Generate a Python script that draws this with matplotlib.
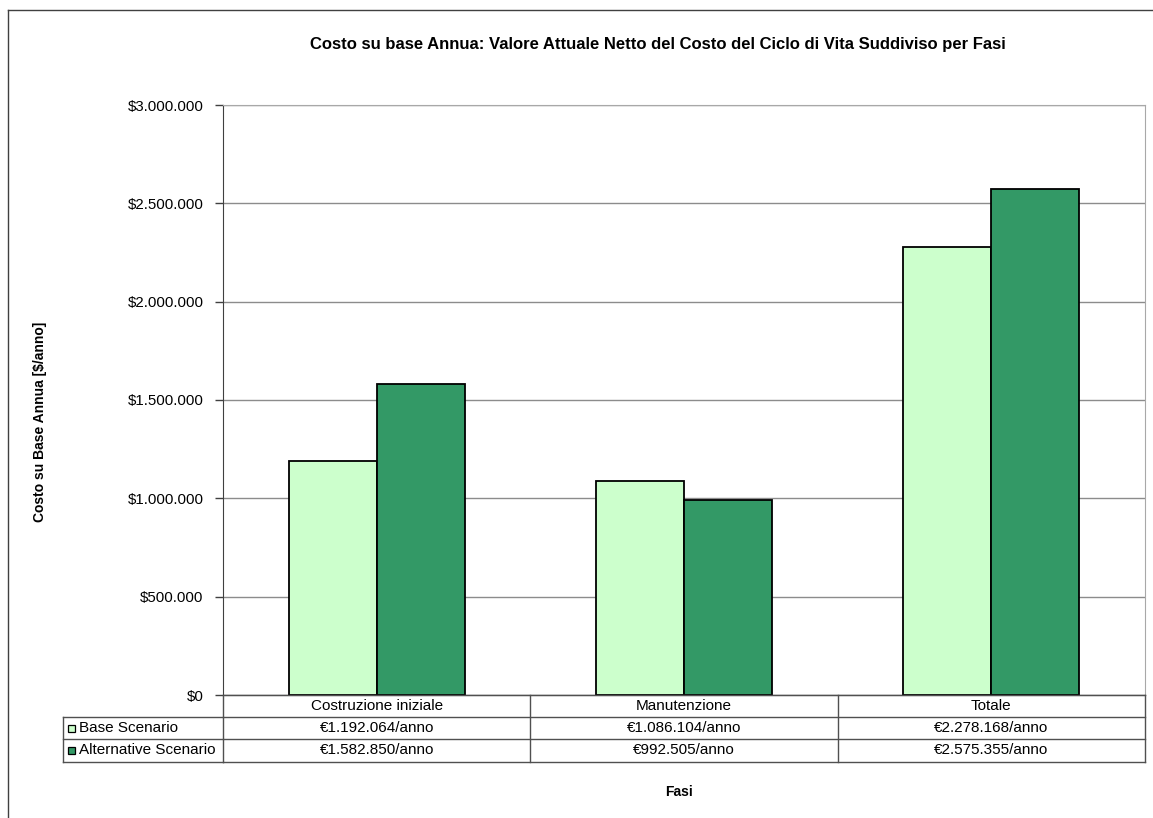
import matplotlib
matplotlib.use("Agg")
import matplotlib.pyplot as plt
from matplotlib.lines import Line2D
from matplotlib.patches import Rectangle
from matplotlib.ticker import FuncFormatter, MultipleLocator
import matplotlib.transforms as mtransforms
import numpy as np

plt.rcParams['font.family'] = ['Liberation Sans', 'DejaVu Sans']

categories = ["Costruzione iniziale", "Manutenzione", "Totale"]
series_names = ["Base Scenario", "Alternative Scenario"]
base_values = [1192064, 1086104, 2278168]
alt_values = [1582850, 992505, 2575355]
base_labels = ["€1.192.064/anno", "€1.086.104/anno", "€2.278.168/anno"]
alt_labels = ["€1.582.850/anno", "€992.505/anno", "€2.575.355/anno"]
title = "Costo su base Annua: Valore Attuale Netto del Costo del Ciclo di Vita Suddiviso per Fasi"
ylabel = "Costo su Base Annua [$/anno]"
xlabel = "Fasi"

base_color = "#CCFFCC"
alt_color = "#339966"

W, H = 1153, 818
fig = plt.figure(figsize=(W / 100, H / 100), dpi=100)

def fx(px):
    return px / W

def fy(py):
    return 1 - py / H

ax = fig.add_axes([fx(223), fy(695), fx(1145) - fx(223), fy(105) - fy(695)])

x = np.arange(len(categories))
bw = 0.286
ax.bar(x - bw / 2, base_values, width=bw, color=base_color, edgecolor="black", linewidth=1.3, zorder=3)
ax.bar(x + bw / 2, alt_values, width=bw, color=alt_color, edgecolor="black", linewidth=1.3, zorder=3)

ax.set_xlim(-0.5, len(categories) - 0.5)
ax.set_ylim(0, 3000000)
ax.yaxis.set_major_locator(MultipleLocator(500000))

def fmt(v, pos):
    s = f"{int(round(v)):,}".replace(",", ".")
    return "$" + s

ax.yaxis.set_major_formatter(FuncFormatter(fmt))
ax.tick_params(axis='y', labelsize=10.8, length=6, width=1, color="#404040", pad=8)
ax.set_xticks([])
ax.grid(axis='y', color="#8c8c8c", linewidth=1, zorder=0)
for sp in ["top", "right"]:
    ax.spines[sp].set_color("#a8a8a8")
ax.spines["left"].set_color("#404040")
ax.spines["bottom"].set_color("#404040")

# Table
blend = mtransforms.blended_transform_factory(ax.transData, fig.transFigure)
row_y = [695, 717, 739, 762]
tlc = "#505050"
tl = 63
for i, yy in enumerate(row_y):
    fig.add_artist(Line2D([-0.5, len(categories) - 0.5], [fy(yy), fy(yy)], transform=blend, color=tlc, lw=1))
    if i >= 1:
        fig.add_artist(Line2D([fx(tl), fx(223)], [fy(yy), fy(yy)], color=tlc, lw=1))
for b in np.arange(len(categories) + 1) - 0.5:
    fig.add_artist(Line2D([b, b], [fy(695), fy(762)], transform=blend, color=tlc, lw=1))
fig.add_artist(Line2D([fx(tl), fx(tl)], [fy(717), fy(762)], color=tlc, lw=1))

fs = 11
for i, c in enumerate(categories):
    fig.text(x[i], fy((695 + 717) / 2), c, transform=blend, ha='center', va='center', fontsize=fs)
    fig.text(x[i], fy((717 + 739) / 2), base_labels[i], transform=blend, ha='center', va='center', fontsize=fs)
    fig.text(x[i], fy((739 + 762) / 2), alt_labels[i], transform=blend, ha='center', va='center', fontsize=fs)

for j, (name, col) in enumerate(zip(series_names, [base_color, alt_color])):
    yc = (row_y[j + 1] + row_y[j + 2]) / 2
    fig.add_artist(Rectangle((fx(68), fy(yc + 3.5)), fx(7), fy(0) - fy(7), facecolor=col,
                             edgecolor="black", lw=0.9, transform=fig.transFigure))
    fig.text(fx(79), fy(yc), name, ha='left', va='center', fontsize=fs)

# Titles
fig.text(fx(658), fy(45), title, ha='center', va='center', fontsize=12, fontweight='bold')
fig.text(fx(40), fy(422), ylabel, ha='center', va='center', rotation=90, fontsize=10, fontweight='bold')
fig.text(fx(679), fy(792), xlabel, ha='center', va='center', fontsize=10, fontweight='bold')

# Outer chart frame
fig.add_artist(Line2D([fx(8), fx(8)], [fy(10), 0], color="#404040", lw=1))
fig.add_artist(Line2D([fx(8), 1], [fy(10), fy(10)], color="#404040", lw=1))

fig.savefig("out.png", dpi=100)
